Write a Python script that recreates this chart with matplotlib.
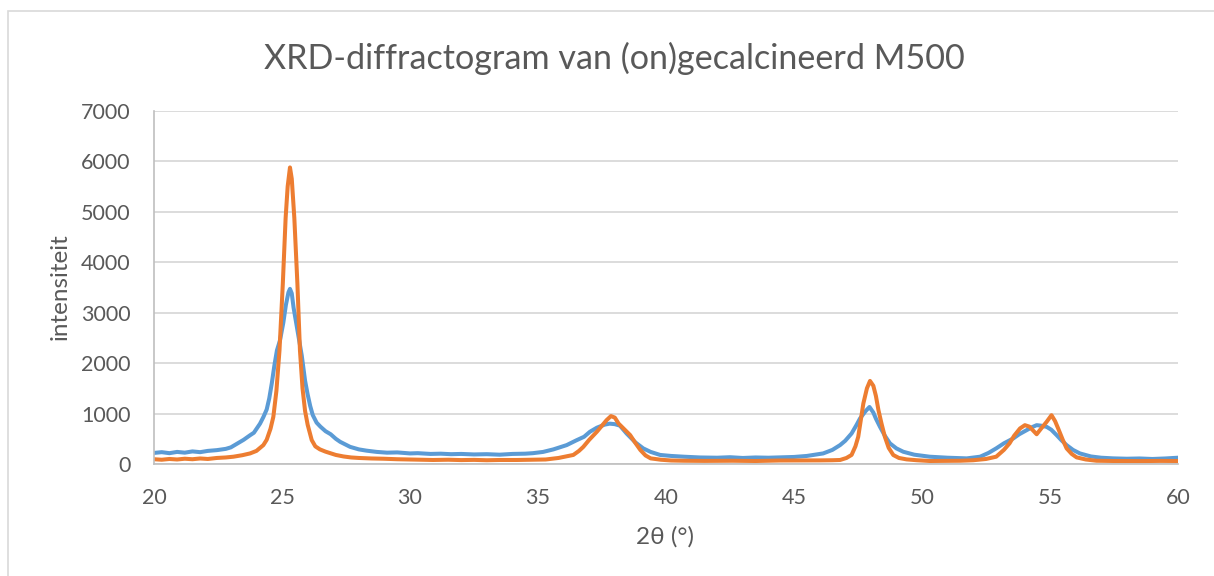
import matplotlib.pyplot as plt
from matplotlib.patches import Rectangle

# ongecalcineerd (blauw)
hoek_blauw = [20.0, 20.3, 20.6, 20.9, 21.2, 21.5, 21.8, 22.1, 22.45, 22.8, 23.0, 23.23, 23.5, 23.75,
              23.9, 24.14, 24.27, 24.4, 24.5, 24.6, 24.7, 24.8, 24.92, 25.05, 25.15, 25.25,
              25.31, 25.38, 25.45, 25.55, 25.65, 25.77, 25.9, 26.0, 26.1, 26.2, 26.35, 26.5, 26.7,
              26.9, 27.1, 27.27, 27.5, 27.66, 28.0, 28.3, 28.7, 29.1, 29.5, 30.0, 30.3, 30.8, 31.2,
              31.6, 32.0, 32.5, 33.0, 33.5, 34.0, 34.5, 34.8, 35.2, 35.6, 36.12, 36.5, 36.8, 37.03,
              37.3, 37.6, 37.8, 38.0, 38.2, 38.46, 38.8, 39.11, 39.4, 39.77, 40.2, 40.7, 41.33, 42.0,
              42.5, 43.0, 43.5, 44.0, 44.45, 45.0, 45.5, 46.14, 46.5, 46.8, 47.0, 47.25, 47.45, 47.58,
              47.8, 47.95, 48.1, 48.2, 48.36, 48.55, 48.75, 49.0, 49.27, 49.7, 50.3, 51.0, 51.75,
              52.27, 52.6, 52.9, 53.2, 53.57, 53.8, 54.09, 54.3, 54.48, 54.65, 54.87, 55.05, 55.26,
              55.45, 55.65, 55.9, 56.17, 56.6, 57.0, 57.47, 58.0, 58.5, 59.0, 59.5, 60.0]
int_blauw = [220, 235, 215, 240, 225, 250, 235, 260, 275, 300, 330, 400, 480, 570,
             620, 800, 930, 1080, 1300, 1600, 1950, 2250, 2450, 2800, 3150, 3400,
             3470, 3380, 3100, 2800, 2500, 2150, 1650, 1380, 1150, 970, 820, 740, 650,
             590, 500, 440, 380, 340, 290, 265, 240, 225, 230, 210, 215, 200, 205,
             195, 200, 190, 195, 185, 200, 205, 215, 240, 290, 375, 470, 540, 640,
             720, 780, 800, 790, 760, 605, 430, 310, 240, 180, 160, 145, 130, 125,
             135, 120, 130, 125, 132, 140, 160, 210, 280, 375, 460, 605, 780, 903,
             1050, 1130, 1020, 900, 737, 560, 409, 310, 243, 185, 145, 125, 112,
             145, 220, 310, 410, 508, 590, 672, 730, 770, 760, 737, 680, 573,
             470, 375, 280, 210, 150, 125, 112, 105, 110, 100, 110, 125]

# gecalcineerd (oranje)
hoek_oranje = [20.0, 20.3, 20.6, 20.9, 21.2, 21.5, 21.8, 22.1, 22.45, 22.8, 23.1, 23.45, 23.75, 24.0,
               24.27, 24.4, 24.55, 24.66, 24.78, 24.9, 25.03, 25.14, 25.22, 25.31, 25.38, 25.48,
               25.6, 25.7, 25.8, 25.9, 26.0, 26.16, 26.3, 26.48, 26.7, 26.88, 27.1, 27.4, 27.7, 28.0,
               28.5, 28.96, 29.5, 30.0, 30.5, 30.9, 31.5, 32.0, 32.5, 33.0, 33.5, 34.17, 34.8, 35.3,
               35.8, 36.1, 36.38, 36.6, 36.77, 37.0, 37.3, 37.5, 37.68, 37.85, 38.0, 38.15, 38.35,
               38.6, 38.8, 39.0, 39.2, 39.4, 39.8, 40.2, 40.7, 41.5, 42.6, 43.5, 44.45, 45.2, 46.0,
               46.5, 46.8, 47.05, 47.25, 47.4, 47.51, 47.62, 47.71, 47.85, 47.97, 48.1, 48.2, 48.3,
               48.42, 48.55, 48.7, 48.88, 49.1, 49.4, 49.8, 50.3, 51.0, 51.5, 52.0, 52.5, 52.9, 53.2,
               53.42, 53.6, 53.83, 54.02, 54.2, 54.35, 54.48, 54.65, 54.87, 55.06, 55.2, 55.32, 55.5,
               55.65, 55.85, 56.04, 56.4, 56.82, 57.5, 58.5, 59.3, 60.0]
int_oranje = [95, 85, 100, 90, 105, 95, 110, 100, 120, 130, 145, 175, 210, 260,
              375, 480, 700, 935, 1450, 2250, 3571, 4875, 5500, 5876, 5650, 4875,
              3571, 2250, 1500, 1050, 780, 474, 350, 290, 245, 215, 180, 150, 130, 120,
              110, 105, 95, 90, 85, 80, 85, 78, 82, 75, 80, 80, 85, 90,
              120, 150, 180, 260, 340, 480, 640, 760, 870, 950, 920, 800, 700,
              573, 420, 277, 170, 112, 85, 70, 65, 62, 65, 60, 70, 70, 72,
              75, 80, 120, 180, 350, 540, 900, 1200, 1500, 1646, 1550, 1350, 1067,
              800, 540, 320, 178, 120, 92, 75, 60, 62, 65, 75, 100, 145, 280,
              409, 560, 705, 770, 740, 660, 590, 700, 836, 968, 850, 705, 480,
              310, 200, 132, 90, 65, 60, 58, 62, 60]

y_ticks = [0, 1000, 2000, 3000, 4000, 5000, 6000, 7000]
x_ticks = [20, 25, 30, 35, 40, 45, 50, 55, 60]

plt.rcParams['font.family'] = ['Lato', 'DejaVu Sans']
tekstkleur = '#595959'

fig = plt.figure(figsize=(12.14, 5.76), dpi=100)
ax = fig.add_axes([0.1269, 0.1944, 0.8434, 0.6134])

# lichtgrijze rand om het diagram
fig.patches.append(Rectangle((8 / 1214, -0.1), 1.2, 1.1 - 11 / 576, transform=fig.transFigure,
                             fill=False, edgecolor='#D9D9D9', linewidth=1.2))

ax.plot(hoek_blauw, int_blauw, color='#5B9BD5', linewidth=2.9, solid_joinstyle='round')
ax.plot(hoek_oranje, int_oranje, color='#ED7D31', linewidth=2.9, solid_joinstyle='round')

ax.set_xlim(20, 60)
ax.set_ylim(0, 7000)
ax.set_xticks(x_ticks)
ax.set_yticks(y_ticks)
ax.grid(axis='y', color='#D9D9D9', linewidth=1.3)
ax.set_axisbelow(True)
for kant in ['top', 'right']:
    ax.spines[kant].set_visible(False)
for kant in ['left', 'bottom']:
    ax.spines[kant].set_color('#BFBFBF')
    ax.spines[kant].set_linewidth(1.2)
ax.tick_params(length=0, labelsize=15.5, labelcolor=tekstkleur)
ax.tick_params(axis='x', pad=17)
ax.tick_params(axis='y', pad=17)

fig.text(0.506, 0.899, 'XRD-diffractogram van (on)gecalcineerd M500', ha='center', va='center',
         fontsize=24.6, color=tekstkleur)
fig.text(665 / 1214, 1 - 537 / 576, '2θ (°)', ha='center', va='center', fontsize=17.5,
         color=tekstkleur)
fig.text(60 / 1214, 1 - 287 / 576, 'intensiteit', ha='center', va='center', rotation=90,
         fontsize=17.5, color=tekstkleur)

fig.savefig('out.png', dpi=100)
